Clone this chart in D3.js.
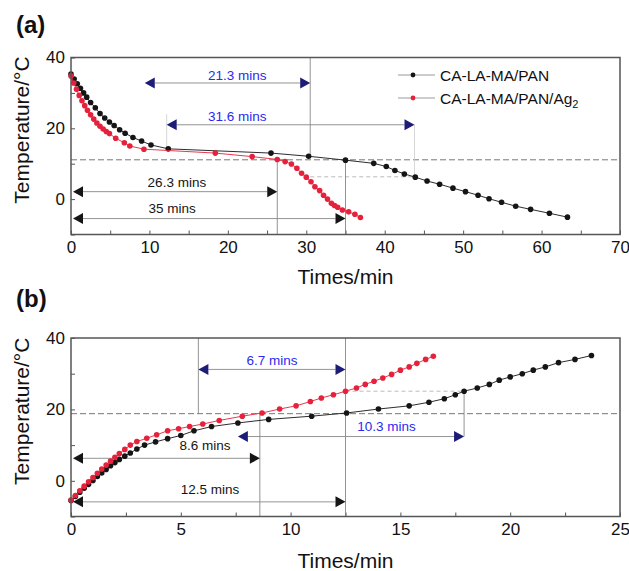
<!DOCTYPE html>
<html><head><meta charset="utf-8">
<script src="https://cdn.jsdelivr.net/npm/d3@7"></script>
<style>
body{margin:0;background:#fff;}
text{font-family:Arial,"Liberation Sans",Helvetica,sans-serif;}
</style>
</head><body>
<svg id="chart" width="629" height="571"></svg>
<script>
// ---------- data ----------
const seriesNames = ["CA-LA-MA/PAN", "CA-LA-MA/PAN/Ag"];
const panelLabels = ["(a)", "(b)"];
const xTitle = "Times/min";
const yTitle = "Temperature/°C";

// panel (a): cooling
const aBlackT = [0,0.4,0.8,1.2,1.6,2.0,2.5,3.1,3.7,4.3,4.9,5.5,6.2,6.9,7.9,9.0,10.2,12.4,25.5,30.3,35.0,38.6,40.2,41.3,42.5,43.9,45.4,47.0,48.7,50.3,51.9,53.3,54.9,56.7,58.6,61.0,63.3];
const aBlackV = [35.3,33.9,32.6,31.3,30.0,28.8,27.3,25.8,24.2,22.9,21.8,20.8,19.6,18.6,17.4,16.4,15.3,14.2,13.0,12.1,11.0,10.1,9.2,8.1,7.1,6.2,5.1,4.2,3.1,2.1,1.1,0.1,-0.9,-2.0,-2.9,-4.0,-5.1];
const aRedT = [0,0.35,0.7,1.05,1.4,1.75,2.1,2.5,2.9,3.3,3.7,4.1,4.5,4.9,5.7,6.8,7.5,9.3,18.4,23.1,26.3,27.3,28.1,28.8,29.4,30.0,30.6,31.1,31.7,32.2,32.7,33.2,33.6,34.0,34.6,35.4,36.2,36.9];
const aRedV = [34.8,32.8,31.0,29.3,27.8,26.4,25.1,23.8,22.6,21.5,20.6,19.8,19.1,18.5,17.2,15.9,15.0,14.1,13.0,12.0,11.2,10.6,9.9,8.7,7.3,6.2,4.9,3.5,2.4,1.1,0.0,-1.2,-1.8,-2.3,-3.1,-3.6,-4.3,-5.2];

// panel (b): heating
const bBlackT = [0,0.2,0.4,0.6,0.8,1.0,1.2,1.4,1.6,1.8,2.0,2.2,2.45,2.7,3.0,3.35,3.85,4.4,5.0,5.6,6.4,7.6,9.0,10.96,12.55,14.0,15.4,16.3,17.0,17.5,17.9,18.5,19.05,19.5,20.0,20.55,21.05,21.6,22.2,22.95,23.7];
const bBlackV = [-5.5,-4.4,-3.2,-2.1,-1.0,0.1,1.2,2.2,3.2,4.2,5.1,6.0,6.9,7.8,8.9,10.0,10.9,11.8,12.7,14.0,15.2,16.2,17.2,18.1,19.0,20.1,21.0,22.0,23.0,24.1,25.1,26.0,27.0,28.2,29.1,30.0,31.0,31.9,33.1,34.0,35.1];
const bRedT = [0,0.2,0.4,0.6,0.8,1.0,1.2,1.4,1.6,1.8,2.0,2.2,2.45,2.7,3.0,3.45,3.9,4.4,4.9,5.4,6.0,6.75,7.8,8.7,9.5,10.25,10.9,11.4,11.95,12.5,13.0,13.4,13.8,14.2,14.6,15.0,15.4,15.75,16.15,16.5];
const bRedV = [-5.4,-4.1,-2.8,-1.5,-0.3,0.9,2.1,3.3,4.4,5.5,6.6,7.6,8.8,10.0,11.0,11.9,12.9,14.0,14.6,15.2,15.9,16.9,18.1,19.0,20.1,21.0,22.2,23.2,24.1,25.1,26.0,27.0,27.9,28.8,29.8,31.0,31.9,32.9,34.0,34.9];

// axes
const aXTicks = [0,5,10,15,20,25,30,35,40,45,50,55,60,65,70];
const aXLabels = [0,10,20,30,40,50,60,70];
const bXTicks = [0,2.5,5,7.5,10,12.5,15,17.5,20,22.5,25];
const bXLabels = [0,5,10,15,20,25];
const yTicks = [-10,0,10,20,30,40];
const yLabels = [0,20,40];

// reference temperatures (dashed)
const aRefTemp = 11.1;
const bRefTemp = 18.8;

// annotation arrows
const aArrowStart = [9.4, 12.2, 0, 0];
const aArrowEnd   = [30.5, 43.8, 26.3, 35];
const aArrowTemp  = [32.8, 21.0, 2.1, -5.5];
const aArrowText  = ["21.3 mins", "31.6 mins", "26.3 mins", "35 mins"];
const aArrowTextT = [21.2, 21.2, 13.5, 12.9];
const aArrowTextV = [34.9, 23.5, 4.8, -2.55];
const aArrowKind  = ["blue", "blue", "black", "black"];

const bArrowStart = [5.8, 7.6, 0, 0];
const bArrowEnd   = [12.5, 17.9, 8.6, 12.5];
const bArrowTemp  = [31.2, 12.4, 6.3, -5.9];
const bArrowText  = ["6.7 mins", "10.3 mins", "8.6 mins", "12.5 mins"];
const bArrowTextT = [9.15, 14.37, 6.1, 6.33];
const bArrowTextV = [33.8, 15.2, 10.1, -2.3];
const bArrowKind  = ["blue", "blue", "black", "black"];

// guide lines
const aGuideT  = [26.3, 35, 30.5, 43.8, 12.2];
const aGuideV1 = [11.1, 11.1, 40, 21.0, 24.0];
const aGuideV2 = [-10, -10, 12.2, 6.3, 14.3];
const aGuideFaint = [false, false, false, true, true];
const aFaintDashT = [30.5, 43.8], aFaintDashV = 6.3;

const bGuideT  = [5.8, 8.6, 12.5, 17.9];
const bGuideV1 = [40, 18.8, 40, 25.1];
const bGuideV2 = [18.8, -10, -10, 12.4];
const bGuideFaint = [false, false, false, false];
const bFaintDashT = [12.5, 17.9], bFaintDashV = 25.1;

// ---------- drawing ----------
const svg = d3.select("#chart");
const BLACK = "#151515", RED = "#e5213c", BLUE_TXT = "#2a2af0", BLUE_HEAD = "#1d1d78";

const zip = (t, v) => t.map((d, i) => ({t: d, v: v[i]}));

function panel(cfg) {
  const x = d3.scaleLinear().domain(cfg.xDomain).range([71, 620]);
  const y = d3.scaleLinear().domain([-10, 40]).range(cfg.yRange);
  const g = svg.append("g");
  const top = y(40), bot = y(-10);

  const xa = g.append("g").attr("transform", `translate(0,${bot})`)
    .call(d3.axisBottom(x).tickValues(cfg.xTicks).tickSizeInner(-4).tickSizeOuter(0).tickPadding(6)
      .tickFormat(d => cfg.xLabels.includes(d) ? d : ""));
  xa.select(".domain").remove();
  xa.selectAll("line").attr("stroke", "#555");
  xa.selectAll("text").attr("font-size", 17).attr("fill", "#111");

  const ya = g.append("g").attr("transform", `translate(71,0)`)
    .call(d3.axisLeft(y).tickValues(yTicks).tickSizeInner(-4).tickSizeOuter(0).tickPadding(6)
      .tickFormat(d => yLabels.includes(d) ? d : ""));
  ya.select(".domain").remove();
  ya.selectAll("line").attr("stroke", "#555");
  ya.selectAll("text").attr("font-size", 17).attr("fill", "#111");

  g.append("line").attr("x1", x.range()[0]).attr("x2", x.range()[1])
    .attr("y1", y(cfg.refTemp)).attr("y2", y(cfg.refTemp))
    .attr("stroke", "#777").attr("stroke-width", 1).attr("stroke-dasharray", "6,3");
  g.append("line").attr("x1", x(cfg.faintDashT[0])).attr("x2", x(cfg.faintDashT[1]))
    .attr("y1", y(cfg.faintDashV)).attr("y2", y(cfg.faintDashV))
    .attr("stroke", "#aaa").attr("stroke-width", 0.8).attr("stroke-dasharray", "4,3");

  cfg.guideT.forEach((t, i) => {
    g.append("line").attr("x1", x(t)).attr("x2", x(t))
      .attr("y1", y(cfg.guideV1[i])).attr("y2", y(cfg.guideV2[i]))
      .attr("stroke", cfg.guideFaint[i] ? "#ccc" : "#777").attr("stroke-width", 0.8);
  });

  cfg.arrowStart.forEach((s, i) => {
    const x1 = Math.max(x(s), 73), x2 = x(cfg.arrowEnd[i]), yy = y(cfg.arrowTemp[i]);
    const head = cfg.arrowKind[i] === "blue" ? BLUE_HEAD : BLACK;
    const hl = 10, hh = 5.5;
    g.append("line").attr("x1", x1 + hl).attr("x2", x2 - hl).attr("y1", yy).attr("y2", yy)
      .attr("stroke", "#888").attr("stroke-width", 0.9);
    g.append("path").attr("d", `M${x1},${yy}L${x1 + hl},${yy - hh}L${x1 + hl},${yy + hh}Z`).attr("fill", head);
    g.append("path").attr("d", `M${x2},${yy}L${x2 - hl},${yy - hh}L${x2 - hl},${yy + hh}Z`).attr("fill", head);
    g.append("text").attr("x", x(cfg.arrowTextT[i])).attr("y", y(cfg.arrowTextV[i])).attr("dy", "0.36em")
      .attr("text-anchor", "middle").attr("font-size", 13.5)
      .attr("fill", cfg.arrowKind[i] === "blue" ? BLUE_TXT : BLACK).text(cfg.arrowText[i]);
  });

  const line = d3.line().x(d => x(d.t)).y(d => y(d.v));
  [[cfg.black, BLACK], [cfg.red, RED]].forEach(([data, col]) => {
    g.append("path").datum(data).attr("d", line).attr("fill", "none")
      .attr("stroke", col).attr("stroke-width", 0.9);
    g.selectAll(null).data(data).enter().append("circle")
      .attr("cx", d => x(d.t)).attr("cy", d => y(d.v)).attr("r", 2.8).attr("fill", col);
  });

  g.append("rect").attr("x", 71).attr("y", top).attr("width", 549).attr("height", bot - top)
    .attr("fill", "none").attr("stroke", "#555").attr("stroke-width", 1.5);

  g.append("text").attr("x", 345.5).attr("y", bot + cfg.xTitleOff).attr("text-anchor", "middle")
    .attr("font-size", 21).attr("fill", "#111").text(xTitle);
  g.append("text").attr("transform", `translate(29,${(top + bot) / 2 - 16}) rotate(-90)`)
    .attr("text-anchor", "middle").attr("font-size", 21).attr("fill", "#111").text(yTitle);
  g.append("text").attr("x", 16).attr("y", top - cfg.labelOff).attr("font-size", 24).attr("font-weight", "bold")
    .attr("fill", "#111").text(cfg.label);

  return {g, x, y};
}

const pa = panel({
  xDomain: [0, 70], yRange: [234.5, 57.5], xTicks: aXTicks, xLabels: aXLabels,
  refTemp: aRefTemp, faintDashT: aFaintDashT, faintDashV: aFaintDashV,
  guideT: aGuideT, guideV1: aGuideV1, guideV2: aGuideV2, guideFaint: aGuideFaint,
  arrowStart: aArrowStart, arrowEnd: aArrowEnd, arrowTemp: aArrowTemp, arrowText: aArrowText,
  arrowTextT: aArrowTextT, arrowTextV: aArrowTextV, arrowKind: aArrowKind,
  black: zip(aBlackT, aBlackV), red: zip(aRedT, aRedV), xTitleOff: 49, label: panelLabels[0], labelOff: 25
});
panel({
  xDomain: [0, 25], yRange: [516.5, 338], xTicks: bXTicks, xLabels: bXLabels,
  refTemp: bRefTemp, faintDashT: bFaintDashT, faintDashV: bFaintDashV,
  guideT: bGuideT, guideV1: bGuideV1, guideV2: bGuideV2, guideFaint: bGuideFaint,
  arrowStart: bArrowStart, arrowEnd: bArrowEnd, arrowTemp: bArrowTemp, arrowText: bArrowText,
  arrowTextT: bArrowTextT, arrowTextV: bArrowTextV, arrowKind: bArrowKind,
  black: zip(bBlackT, bBlackV), red: zip(bRedT, bRedV), xTitleOff: 51, label: panelLabels[1], labelOff: 31
});

const leg = pa.g.append("g");
[[BLACK, 75, false], [RED, 98, true]].forEach(([col, yy, sub], i) => {
  leg.append("line").attr("x1", 398).attr("x2", 435).attr("y1", yy).attr("y2", yy)
    .attr("stroke", "#999").attr("stroke-width", 1);
  leg.append("circle").attr("cx", 413).attr("cy", yy).attr("r", 2.4).attr("fill", col);
  const t = leg.append("text").attr("x", 440).attr("y", yy + 5.5).attr("font-size", 15.5).attr("fill", "#111")
    .text(seriesNames[i]);
  if (sub) t.append("tspan").attr("dy", 4).attr("font-size", 11).text("2");
});
</script>
</body></html>
